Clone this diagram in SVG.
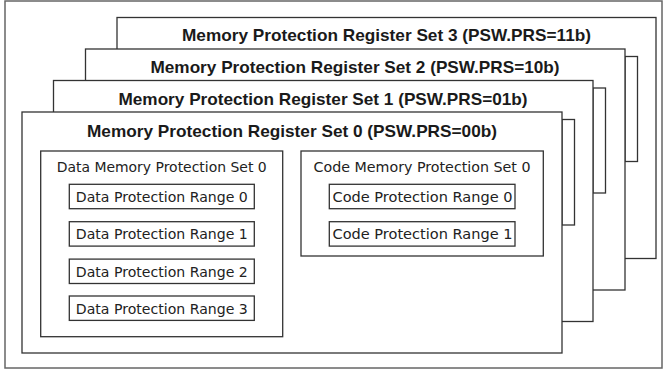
<svg xmlns="http://www.w3.org/2000/svg" width="668" height="373" viewBox="0 0 668 373">
  <style>
    .frame { fill: #ffffff; stroke: #666666; stroke-width: 1.5; }
    .box { fill: #ffffff; stroke: #333333; stroke-width: 1.3; }
    .title { font-family: "Liberation Sans", Arial, sans-serif; font-weight: bold; font-size: 17px; fill: #1a1a1a; text-anchor: middle; }
    .label { font-family: "DejaVu Sans", "Liberation Sans", sans-serif; font-size: 14.5px; fill: #222222; text-anchor: middle; }
  </style>

  <!-- outer frame -->
  <rect class="frame" x="5" y="1" width="657" height="367"/>

  <!-- register set 3 (back) -->
  <g id="set3">
    <rect class="box" x="117" y="17.5" width="539" height="241"/>
    <text class="title" x="386.5" y="41" textLength="409" lengthAdjust="spacingAndGlyphs">Memory Protection Register Set 3 (PSW.PRS=11b)</text>
  </g>

  <!-- register set 2 -->
  <g id="set2">
    <rect class="box" x="625" y="56.5" width="12.5" height="105"/>
    <rect class="box" x="85.5" y="49" width="539.5" height="241"/>
    <text class="title" x="355" y="72.5" textLength="409" lengthAdjust="spacingAndGlyphs">Memory Protection Register Set 2 (PSW.PRS=10b)</text>
  </g>

  <!-- register set 1 -->
  <g id="set1">
    <rect class="box" x="593" y="88" width="12.5" height="105"/>
    <rect class="box" x="53.5" y="80.5" width="539.5" height="241"/>
    <text class="title" x="323" y="104.5" textLength="409" lengthAdjust="spacingAndGlyphs">Memory Protection Register Set 1 (PSW.PRS=01b)</text>
  </g>

  <!-- register set 0 (front) -->
  <g id="set0">
    <rect class="box" x="562" y="119.5" width="12.5" height="105.5"/>
    <rect class="box" x="22" y="112" width="540" height="241"/>
    <text class="title" x="292" y="136.5" textLength="410" lengthAdjust="spacingAndGlyphs">Memory Protection Register Set 0 (PSW.PRS=00b)</text>
  </g>

  <!-- data memory protection set -->
  <g id="data-set">
    <rect class="box" x="40.7" y="151" width="242" height="185.7"/>
    <text class="label" x="161.7" y="171.5" textLength="210" lengthAdjust="spacingAndGlyphs">Data Memory Protection Set 0</text>
  </g>
  <g id="data-range0">
    <rect class="box" x="69.3" y="184.3" width="185" height="24.4"/>
    <text class="label" x="161.8" y="202" textLength="172" lengthAdjust="spacingAndGlyphs">Data Protection Range 0</text>
  </g>
  <g id="data-range1">
    <rect class="box" x="69.3" y="221.7" width="185" height="24.4"/>
    <text class="label" x="161.8" y="239.4" textLength="172" lengthAdjust="spacingAndGlyphs">Data Protection Range 1</text>
  </g>
  <g id="data-range2">
    <rect class="box" x="69.3" y="259.1" width="185" height="24.4"/>
    <text class="label" x="161.8" y="276.8" textLength="172" lengthAdjust="spacingAndGlyphs">Data Protection Range 2</text>
  </g>
  <g id="data-range3">
    <rect class="box" x="69.3" y="296" width="185" height="24.4"/>
    <text class="label" x="161.8" y="313.7" textLength="172" lengthAdjust="spacingAndGlyphs">Data Protection Range 3</text>
  </g>

  <!-- code memory protection set -->
  <g id="code-set">
    <rect class="box" x="301" y="151" width="242.3" height="105"/>
    <text class="label" x="422" y="171.5" textLength="217" lengthAdjust="spacingAndGlyphs">Code Memory Protection Set 0</text>
  </g>
  <g id="code-range0">
    <rect class="box" x="329.3" y="184.3" width="185.7" height="24.4"/>
    <text class="label" x="422.5" y="202" textLength="180" lengthAdjust="spacingAndGlyphs">Code Protection Range 0</text>
  </g>
  <g id="code-range1">
    <rect class="box" x="329.3" y="221.7" width="185.7" height="24.4"/>
    <text class="label" x="422.5" y="239.4" textLength="180" lengthAdjust="spacingAndGlyphs">Code Protection Range 1</text>
  </g>

  <!-- no connectors in this figure -->
  <g id="connectors"/>
</svg>
